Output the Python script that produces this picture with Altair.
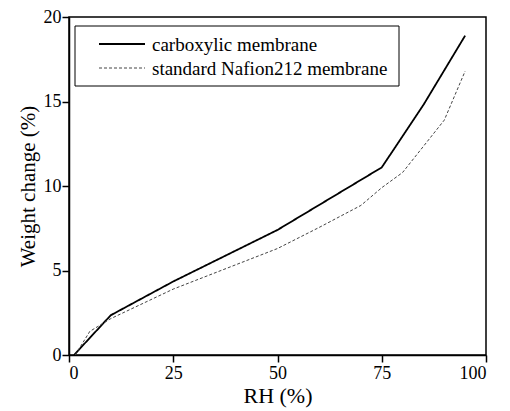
import altair as alt
import pandas as pd

# Data
series_names = ["carboxylic membrane", "standard Nafion212 membrane"]
carb_rh = [1.2, 10, 25, 50, 75, 85, 95]
carb_wc = [0.0, 2.35, 4.35, 7.4, 11.1, 14.8, 18.9]
naf_rh = [1.5, 5, 7, 10, 25, 50, 60, 70, 75, 80, 90, 95]
naf_wc = [0.0, 1.4, 1.7, 2.15, 3.9, 6.3, 7.55, 8.85, 9.9, 10.8, 13.9, 16.8]
x_ticks = [0, 25, 50, 75, 100]
y_ticks = [0, 5, 10, 15, 20]

df = pd.concat([
    pd.DataFrame({"rh": carb_rh, "wc": carb_wc, "series": series_names[0], "order": range(len(carb_rh))}),
    pd.DataFrame({"rh": naf_rh, "wc": naf_wc, "series": series_names[1], "order": range(len(naf_rh))}),
])

FONT = "Liberation Serif"
colors = ["#000000", "#444444"]
dashes = [[1, 0], [3, 2]]
widths = [1.8, 1.0]

W, H = 417, 338

lines = alt.Chart(df).mark_line().encode(
    x=alt.X("rh:Q", title="RH (%)",
            scale=alt.Scale(domain=[0, 100], nice=False, zero=False),
            axis=alt.Axis(values=x_ticks, grid=False, titleFontSize=22, labelPadding=2, titlePadding=3)),
    y=alt.Y("wc:Q", title="Weight change (%)",
            scale=alt.Scale(domain=[0, 20], nice=False),
            axis=alt.Axis(values=y_ticks, grid=False, titleFontSize=21, labelPadding=1, titlePadding=5)),
    color=alt.Color("series:N", scale=alt.Scale(domain=series_names, range=colors), legend=None),
    strokeDash=alt.StrokeDash("series:N", scale=alt.Scale(domain=series_names, range=dashes), legend=None),
    strokeWidth=alt.StrokeWidth("series:N", scale=alt.Scale(domain=series_names, range=widths), legend=None),
    order="order:Q",
)

legend_df = pd.DataFrame({"series": series_names})
box = alt.Chart(legend_df).transform_filter(
    alt.datum.series == series_names[0]
).mark_rect(fill="white", stroke="black", strokeWidth=1).encode(
    x=alt.value(6), x2=alt.value(330), y=alt.value(9), y2=alt.value(69)
)

layers = [lines, box]
row_y = [27, 51]
for i, name in enumerate(series_names):
    sub = alt.Chart(legend_df).transform_filter(alt.datum.series == name)
    layers.append(sub.mark_rule(color=colors[i], strokeWidth=widths[i], strokeDash=dashes[i]).encode(
        x=alt.value(30), x2=alt.value(76), y=alt.value(row_y[i])))
    layers.append(sub.mark_text(align="left", baseline="middle", font=FONT, fontSize=19, color="black").encode(
        x=alt.value(83), y=alt.value(row_y[i] + 1), text="series:N"))

chart = alt.layer(*layers).properties(
    width=W, height=H,
    padding={"left": 9, "top": 0, "right": 5, "bottom": 2},
).configure_view(
    stroke="black", strokeWidth=1.5
).configure_axis(
    domainColor="black", domainWidth=1.5,
    tickColor="black", tickWidth=1.5, tickSize=7,
    labelColor="black", labelFont=FONT, labelFontSize=18,
    titleColor="black", titleFont=FONT, titleFontWeight="normal",
)

chart.save("out.html", embed_options={"renderer": "svg", "actions": False})
